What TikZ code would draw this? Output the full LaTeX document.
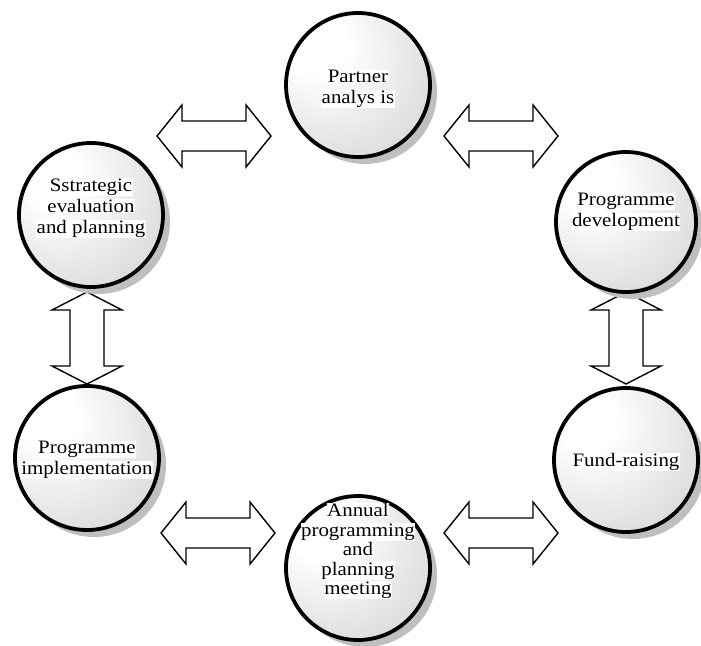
\documentclass[tikz,border=0pt]{standalone}
\usepackage{fontspec}
\setmainfont[FakeStretch=1.1]{Liberation Serif}
\usetikzlibrary{shadows}
\pgfdeclareradialshading{disc}{\pgfpoint{-16bp}{16bp}}{color(0bp)=(white);color(10bp)=(white);color(45bp)=(black!18);color(75bp)=(black!28)}
\newcommand\wbox[1]{{\setlength\fboxsep{0.5pt}\colorbox{white}{#1}}}
\begin{document}
\begin{tikzpicture}[x=1pt,y=-1pt,
  circ/.style={circle, minimum size=#1, inner sep=0pt, line width=3.8pt, draw=black, shading=disc,
    drop shadow={shadow xshift=7pt, shadow yshift=-7pt, fill=black!25, opacity=1}},
  circ/.default=144pt,
  txt/.style={align=center, inner sep=0pt, font=\fontsize{19}{21}\selectfont},
  blk/.style={draw=black, fill=white, line width=1.4pt, line join=miter},
  harrow/.pic={\draw[blk] (-57,0) -- (-32,-31) -- (-32,-15) -- (32,-15) -- (32,-31) -- (57,0)
     -- (32,31) -- (32,15) -- (-32,15) -- (-32,31) -- cycle;},
  varrow/.pic={\draw[blk] (0,-46) -- (35,-28) -- (17,-28) -- (17,28) -- (35,28) -- (0,46)
     -- (-35,28) -- (-17,28) -- (-17,-28) -- (-35,-28) -- cycle;}]
\useasboundingbox (0,0) rectangle (701,645);

% block arrows (connectors between the circles)
\coordinate (a1) at (214,136);
\coordinate (a2) at (501,136);
\coordinate (a3) at (87,338);
\coordinate (a4) at (626,338);
\coordinate (a5) at (218,533);
\coordinate (a6) at (501,533);
\pic at (a1) {harrow};
\pic at (a2) {harrow};
\pic at (a3) {varrow};
\pic at (a4) {varrow};
\pic at (a5) {harrow};
\pic at (a6) {harrow};

% circles
\node[circ] (pa) at (358,85) {};
\node[circ] (se) at (91,215) {};
\node[circ=140pt] (pd) at (626,222) {};
\node[circ] (pi) at (87,458) {};
\node[circ] (fr) at (626,460) {};
\node[circ] (ap) at (358,568) {};

% texts
\node[txt] (tpa) at ([yshift=-4pt]pa.center) {\wbox{Partner}\\\wbox{analys is}};
\node[txt] (tse) at ([yshift=7pt]se.center) {\wbox{Sstrategic}\\\wbox{evaluation}\\\wbox{and planning}};
\node[txt] (tpd) at ([yshift=10pt]pd.center) {\wbox{Programme}\\\wbox{development}};
\node[txt] (tpi) at ([yshift=-2pt]pi.center) {\wbox{Programme}\\\wbox{implementation}};
\node[txt] (tfr) at ([yshift=-2pt]fr.center) {\wbox{Fund-raising}};
\node[txt, font=\fontsize{19}{19.5}\selectfont] (tap) at ([yshift=17pt]ap.center) {\wbox{Annual}\\\wbox{programming}\\\wbox{and}\\\wbox{planning}\\\wbox{meeting}};
\end{tikzpicture}
\end{document}
